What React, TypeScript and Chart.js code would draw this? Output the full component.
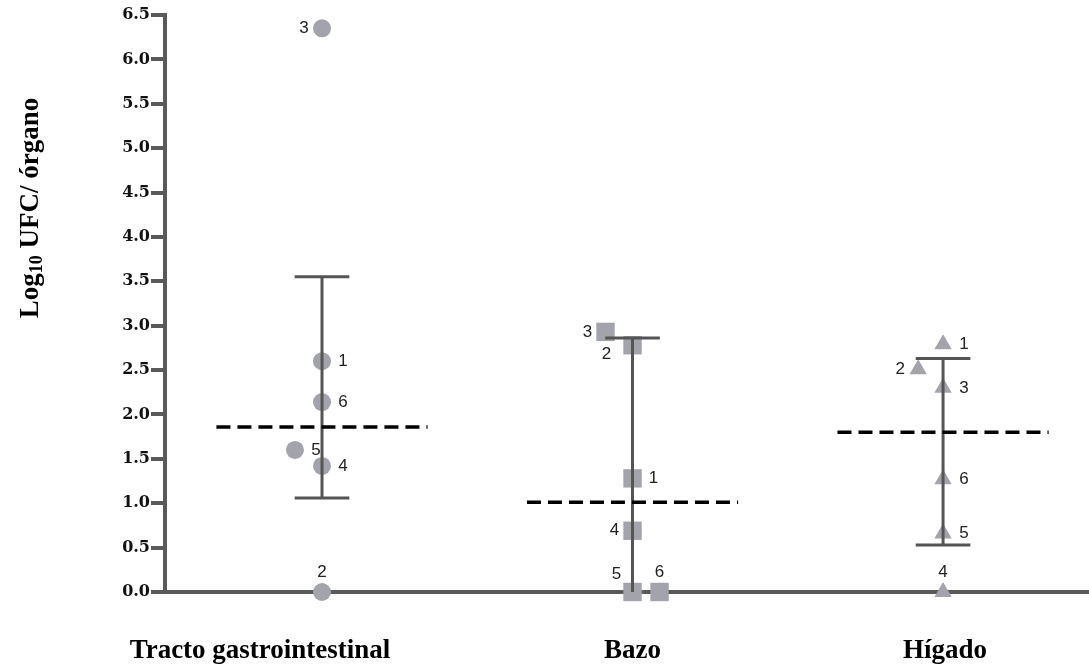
import React, { useEffect, useRef } from 'react';
import { Chart, registerables } from 'chart.js';

Chart.register(...registerables);

// ---------- data ----------
const categories = ['Tracto gastrointestinal', 'Bazo', 'Hígado'];
const animalIds = ['1', '2', '3', '4', '5', '6'];

// Log10 UFC / órgano for animals 1..6
const tractoValues = [2.6, 0, 6.35, 1.42, 1.6, 2.14];
const bazoValues = [1.28, 2.78, 2.93, 0.69, 0, 0];
const higadoValues = [2.79, 2.51, 2.3, 0, 0.66, 1.27];

// small horizontal jitter (in category units) used in the original to separate overlapping points
const tractoJitter = [0, 0, 0, 0, -0.087, 0];
const bazoJitter = [0, 0, -0.087, 0, 0, 0.087];
const higadoJitter = [0, -0.08, 0, 0, 0, 0];

const meanValues = [1.86, 1.01, 1.8];
const errUpper = [3.55, 2.86, 2.63];
const errLower = [1.06, 0, 0.53];

const yTickValues = [0, 0.5, 1, 1.5, 2, 2.5, 3, 3.5, 4, 4.5, 5, 5.5, 6, 6.5];

// label placement for each animal number
const tractoLabelPos = ['right', 'top', 'left', 'right', 'right', 'right'];
const bazoLabelPos = ['right', 'bottomleft', 'left', 'left', 'topleft', 'top'];
const higadoLabelPos = ['right', 'left', 'right', 'top', 'right', 'right'];

// ---------- styles ----------
const POINT_COLOR = '#a3a3ab';
const AXIS_COLOR = '#5a5a5a';
const ERR_COLOR = '#555555';
const CAP_HALF = 0.088;
const MEAN_HALF = 0.34;
const categoryLabelShift = [-62, 0, 2];

const labelOffsets: Record<string, [number, number]> = {
  right: [21, 0],
  left: [-18, 0],
  top: [0, -20],
  topleft: [-16, -18],
  bottomleft: [-26, 9],
};

export default function App() {
  const ref = useRef<HTMLCanvasElement>(null);

  useEffect(() => {
    const seriesValues = [tractoValues, bazoValues, higadoValues];
    const seriesJitter = [tractoJitter, bazoJitter, higadoJitter];
    const seriesLabelPos = [tractoLabelPos, bazoLabelPos, higadoLabelPos];
    const styles = ['circle', 'rect', 'triangle'];
    const radii = [9, 13, 10];

    const datasets: any[] = [];
    // points
    seriesValues.forEach((vals, c) => {
      datasets.push({
        type: 'scatter',
        data: vals.map((v, i) => ({ x: c + 1 + seriesJitter[c][i], y: v })),
        pointStyle: styles[c],
        pointRadius: radii[c],
        pointBackgroundColor: POINT_COLOR,
        pointBorderColor: POINT_COLOR,
        pointBorderWidth: 0,
        showLine: false,
        clip: false,
        order: 3,
      });
    });
    // error bars
    categories.forEach((_, c) => {
      const x = c + 1;
      const lineDs = (data: any[]) => ({
        type: 'line',
        data,
        borderColor: ERR_COLOR,
        borderWidth: 3,
        pointRadius: 0,
        fill: false,
        clip: false,
        order: 2,
      });
      datasets.push(lineDs([{ x, y: errLower[c] }, { x, y: errUpper[c] }]));
      datasets.push(lineDs([{ x: x - CAP_HALF, y: errUpper[c] }, { x: x + CAP_HALF, y: errUpper[c] }]));
      if (errLower[c] > 0) {
        datasets.push(lineDs([{ x: x - CAP_HALF, y: errLower[c] }, { x: x + CAP_HALF, y: errLower[c] }]));
      }
    });
    // means
    meanValues.forEach((m, c) => {
      datasets.push({
        type: 'line',
        data: [{ x: c + 1 - MEAN_HALF, y: m }, { x: c + 1 + MEAN_HALF, y: m }],
        borderColor: '#000',
        borderWidth: 3.5,
        borderDash: [14, 7],
        pointRadius: 0,
        fill: false,
        clip: false,
        order: 1,
      });
    });

    const textPlugin = {
      id: 'texts',
      afterDatasetsDraw(chart: any) {
        const ctx = chart.ctx;
        const xs = chart.scales.x;
        ctx.save();
        // animal numbers
        ctx.font = '17px "Liberation Sans"';
        ctx.fillStyle = '#222';
        ctx.textAlign = 'center';
        ctx.textBaseline = 'middle';
        seriesValues.forEach((vals, c) => {
          const meta = chart.getDatasetMeta(c);
          vals.forEach((_, i) => {
            const el = meta.data[i];
            const off = labelOffsets[seriesLabelPos[c][i]];
            ctx.fillText(animalIds[i], el.x + off[0], el.y + off[1]);
          });
        });
        // category labels
        ctx.font = 'bold 27px "Liberation Serif"';
        ctx.fillStyle = '#000';
        categories.forEach((cat, c) => {
          ctx.fillText(cat, xs.getPixelForValue(c + 1) + categoryLabelShift[c], 651);
        });
        // y title
        const parts: [string, string, number][] = [
          ['Log', 'bold 27px "Liberation Serif"', 0],
          ['10', 'bold 18px "Liberation Serif"', 6],
          [' UFC/ órgano', 'bold 27px "Liberation Serif"', 0],
        ];
        let total = 0;
        parts.forEach((p) => {
          ctx.font = p[1];
          total += ctx.measureText(p[0]).width;
        });
        ctx.translate(31, 208);
        ctx.rotate(-Math.PI / 2);
        ctx.textAlign = 'left';
        let cx = -total / 2;
        parts.forEach((p) => {
          ctx.font = p[1];
          ctx.fillText(p[0], cx, p[2]);
          cx += ctx.measureText(p[0]).width;
        });
        ctx.restore();
      },
    };

    const chart = new Chart(ref.current!, {
      type: 'scatter',
      data: { datasets },
      plugins: [textPlugin],
      options: {
        animation: false,
        responsive: false,
        devicePixelRatio: 1,
        layout: { autoPadding: false, padding: { top: 15, right: 0, left: 0, bottom: 0 } },
        plugins: { legend: { display: false }, tooltip: { enabled: false } },
        scales: {
          x: {
            type: 'linear',
            min: 0.4944,
            max: 3.47,
            ticks: { display: false },
            grid: { display: false },
            border: { display: true, color: AXIS_COLOR, width: 4 },
            afterFit: (s: any) => {
              s.height = 77;
            },
          },
          y: {
            type: 'linear',
            min: 0,
            max: 6.5,
            afterBuildTicks: (s: any) => {
              s.ticks = yTickValues.map((v) => ({ value: v }));
            },
            ticks: {
              callback: (v: any) => Number(v).toFixed(1),
              font: { family: 'DejaVu Serif', weight: 'bold', size: 16 },
              color: '#111',
              padding: 1,
            },
            grid: {
              drawOnChartArea: false,
              drawTicks: true,
              tickLength: 14,
              color: AXIS_COLOR,
              lineWidth: 4,
            },
            border: { display: true, color: AXIS_COLOR, width: 4 },
            afterFit: (s: any) => {
              s.width = 165;
            },
          },
        },
      },
    });
    return () => chart.destroy();
  }, []);

  return (
    <div style={{ position: 'absolute', left: 0, top: 0, width: 1089, height: 669, background: '#fff' }}>
      <canvas ref={ref} width={1089} height={669} style={{ display: 'block' }} />
    </div>
  );
}
